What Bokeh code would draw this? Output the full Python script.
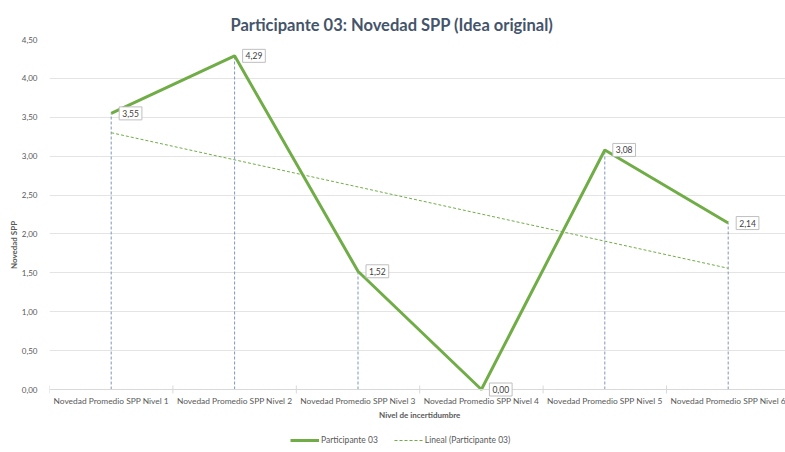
import numpy as np
from bokeh.plotting import figure
from bokeh.core.properties import value
from bokeh.models import FixedTicker, Label, Legend, LegendItem, ColumnDataSource, Range1d, Span
from bokeh.embed import file_html
from bokeh.resources import INLINE

categories = ["Novedad Promedio SPP Nivel 1", "Novedad Promedio SPP Nivel 2",
              "Novedad Promedio SPP Nivel 3", "Novedad Promedio SPP Nivel 4",
              "Novedad Promedio SPP Nivel 5", "Novedad Promedio SPP Nivel 6"]
values = [3.55, 4.29, 1.52, 0.00, 3.08, 2.14]
y_ticks = [0, 0.5, 1, 1.5, 2, 2.5, 3, 3.5, 4, 4.5]
series_name = "Participante 03"
trend_name = "Lineal (Participante 03)"
x_title = "Nivel de incertidumbre"
y_title = "Novedad SPP"

xs = list(range(1, len(categories) + 1))
bounds = [x - 0.5 for x in xs] + [xs[-1] + 0.5]
coef = np.polyfit(xs, values, 1)
trend = [coef[0] * x + coef[1] for x in xs]

def fmt(v):
    return f"{v:.2f}".replace(".", ",")

FONT = "Lato"
GRAY = "#595959"
GREEN = "#70AD47"
AXIS = "#D9D9D9"

W, H = 785, 450
LEFT, TOP = 49, 39
px_per_unit_y = 350 / 4.5
px_per_cat = 123.4
y_start = -(H - TOP - 350) / px_per_unit_y
x_end = 0.5 + (W - LEFT) / px_per_cat

p = figure(width=W, height=H, output_backend="svg", toolbar_location=None,
           x_range=Range1d(0.5, x_end), y_range=Range1d(y_start, 4.5),
           min_border_left=LEFT, min_border_right=0, min_border_top=TOP, min_border_bottom=0)
p.title.text = "Participante 03: Novedad SPP (Idea original)"
p.title.align = "left"
p.title.offset = 181
p.title.text_font = FONT
p.title.text_font_size = "16.5px"
p.title.text_font_style = "bold"
p.title.text_color = "#44546A"

p.outline_line_color = None
p.background_fill_color = "white"
p.xgrid.grid_line_color = None
p.ygrid.grid_line_color = "#E4E4E4"
p.ygrid.ticker = FixedTicker(ticks=y_ticks[1:])
p.xaxis.visible = False

# category axis drawn inside the frame
p.add_layout(Span(location=0, dimension="width", line_color=AXIS, line_width=1))
p.scatter(x=bounds, y=[0] * len(bounds), marker="dash", angle=np.pi / 2, size=8,
          line_color=AXIS, line_width=1)
p.text(x=xs, y=[0] * len(xs), text=categories, y_offset=6, text_align="center",
       text_baseline="top", text_font=value(FONT), text_font_size=value("8.4px"),
       text_color=GRAY)
p.add_layout(Label(x=(bounds[0] + bounds[-1]) / 2, y=0, y_offset=-25, text=x_title,
                   text_align="center", text_baseline="middle", text_font=FONT,
                   text_font_size="8px", text_font_style="bold", text_color=GRAY))

src = ColumnDataSource(dict(x=xs, y=values, y0=[0] * len(xs), t=trend))

p.segment(x0="x", y0="y0", x1="x", y1="y", source=src, line_color="#7F96B8",
          line_width=1, line_dash="3 2")
r_trend = p.line("x", "t", source=src, line_color=GREEN, line_width=1, line_dash="3 2")
r_main = p.line("x", "y", source=src, line_color=GREEN, line_width=3)

for x, v in zip(xs, values):
    p.add_layout(Label(x=x, y=v, text=fmt(v), x_offset=8, text_baseline="middle",
                       text_font=FONT, text_font_size="8.5px", text_color="#404040",
                       background_fill_color="white", border_line_color="#BFBFBF",
                       padding=3))

ya = p.yaxis[0]
ya.ticker = FixedTicker(ticks=y_ticks)
ya.major_label_overrides = {t: fmt(t) for t in y_ticks}
ya.axis_line_color = None
ya.major_tick_line_color = None
ya.minor_tick_line_color = None
ya.major_label_text_font = FONT
ya.major_label_text_font_size = "8px"
ya.major_label_text_color = GRAY
ya.axis_label = y_title
ya.axis_label_text_font = FONT
ya.axis_label_text_font_size = "8px"
ya.axis_label_text_font_style = "bold"
ya.axis_label_text_color = GRAY
ya.axis_label_standoff = 0
ya.major_label_standoff = 6

legend = Legend(items=[LegendItem(label=series_name, renderers=[r_main]),
                       LegendItem(label=trend_name, renderers=[r_trend])],
                orientation="horizontal", border_line_color=None,
                label_text_font=FONT, label_text_font_size="8.5px", label_text_color=GRAY,
                glyph_width=29, glyph_height=10, label_height=10, label_standoff=2,
                spacing=16, padding=0, margin=0,
                location=(241, 5), background_fill_alpha=0)
p.add_layout(legend, "center")

open("out.html", "w").write(file_html(p, INLINE))
